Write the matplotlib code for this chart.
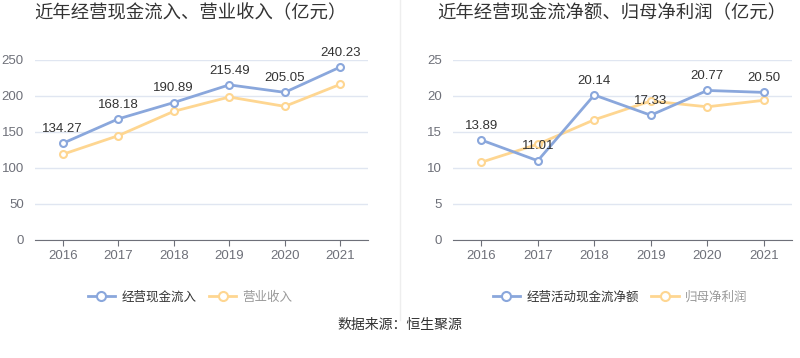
import matplotlib.pyplot as plt
from matplotlib.lines import Line2D

plt.rcParams['font.family'] = ['Noto Sans CJK SC', 'DejaVu Sans']
num_font = ['Liberation Sans', 'Noto Sans CJK SC']

years = ['2016', '2017', '2018', '2019', '2020', '2021']
cash_in = [134.27, 168.18, 190.89, 215.49, 205.05, 240.23]
revenue = [119.0, 144.9, 178.7, 198.6, 185.6, 216.2]
net_cash = [13.89, 11.01, 20.14, 17.33, 20.77, 20.50]
net_profit = [10.8, 13.3, 16.7, 19.3, 18.5, 19.4]

blue = '#8aa7dc'
yellow = '#fed691'
grid_c = '#e0e6f1'
axis_c = '#6e7079'

W, H = 800, 358
fig = plt.figure(figsize=(W / 100, H / 100), dpi=100)


def px_axes(x0, y0, x1, y1):
    return fig.add_axes([x0 / W, (H - y1) / H, (x1 - x0) / W, (y1 - y0) / H])


def draw(ax, s1, s2, ymax, step, title, tx):
    xs = range(len(years))
    ax.plot(xs, s2, color=yellow, lw=2, marker='o', ms=5, mfc='white',
            mec=yellow, mew=1.5, zorder=3)
    ax.plot(xs, s1, color=blue, lw=2, marker='o', ms=5, mfc='white',
            mec=blue, mew=1.5, zorder=4)
    for i, v in enumerate(s1):
        ax.annotate(f'{v:.2f}', (i, v), xytext=(0, 6), textcoords='offset points',
                    ha='center', va='bottom', fontsize=9.5, color='#333333',
                    family=num_font, zorder=5)
    ax.set_xlim(-0.5, len(years) - 0.5)
    ax.set_ylim(0, ymax)
    ax.set_yticks(range(0, ymax + 1, step))
    ax.set_xticks(list(xs))
    ax.set_xticklabels(years)
    ax.grid(axis='y', color=grid_c, lw=1)
    ax.set_axisbelow(True)
    for s in ['top', 'right', 'left']:
        ax.spines[s].set_visible(False)
    ax.spines['bottom'].set_color(axis_c)
    ax.tick_params(axis='y', length=0, labelsize=9.5, colors=axis_c, pad=8)
    ax.tick_params(axis='x', length=4, labelsize=9.5, colors=axis_c, color=axis_c)
    for lab in ax.get_xticklabels() + ax.get_yticklabels():
        lab.set_family(num_font)
    fig.text(tx / W, 1 - 13 / H, title, fontsize=13.2, color='#333333',
             ha='left', va='center')


ax1 = px_axes(35, 60, 368, 240)
draw(ax1, cash_in, revenue, 250, 50, '近年经营现金流入、营业收入（亿元）', 34)
ax2 = px_axes(453, 60, 792, 240)
draw(ax2, net_cash, net_profit, 25, 5, '近年经营现金流净额、归母净利润（亿元）', 437)

fig.add_artist(Line2D([400 / W, 400 / W], [1 - 320 / H, 1], color='#eeeeee', lw=1))


def handle(c):
    return Line2D([], [], color=c, lw=2, marker='o', ms=6.5, mfc='white', mec=c, mew=1.5)


for labels, cx in [(['经营现金流入', '营业收入'], 190), (['经营活动现金流净额', '归母净利润'], 620)]:
    leg = fig.legend([handle(blue), handle(yellow)], labels, loc='center',
                     bbox_to_anchor=(cx / W, 1 - 297 / H), ncol=2, frameon=False,
                     fontsize=9, handlelength=2.2, columnspacing=1.0, handletextpad=0.5)
    leg.get_texts()[0].set_color('#333333')
    leg.get_texts()[1].set_color('#999999')

fig.text(0.5, 1 - 325 / H, '数据来源：恒生聚源', ha='center', va='center',
         fontsize=10, color='#333333')

fig.savefig('out.png', dpi=100, facecolor='white')
